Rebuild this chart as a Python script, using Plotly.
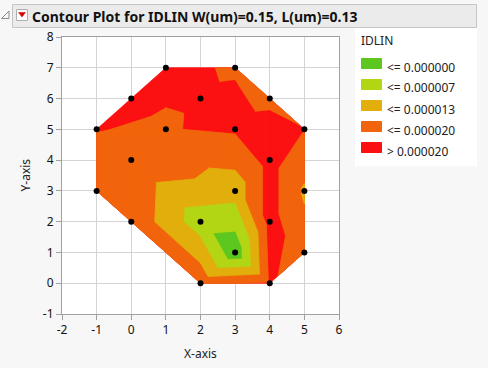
import plotly.graph_objects as go

# ---------------- data ----------------
pts_x = [-1, -1, 0, 0, 0, 1, 1, 2, 2, 2, 3, 3, 3, 3, 4, 4, 4, 4, 5, 5, 5]
pts_y = [5, 3, 6, 4, 2, 7, 5, 6, 2, 0, 7, 5, 3, 1, 6, 4, 2, 0, 5, 3, 1]
idlin = [20.07e-6, 18.5e-6, 20.37e-6, 19.26e-6, 18.65e-6, 20.5e-6, 19.73e-6,
         20.25e-6, 3.2e-6, 18.4e-6, 19.8e-6, 20.85e-6, 9.65e-6, -4.5e-6,
         19.4e-6, 22.7e-6, 22.7e-6, 21.0e-6, 20.1e-6, 12.5e-6, 16.8e-6]
# triangulation of the sample points (indices into the lists above)
triangles = [(0, 2, 6), (0, 3, 6), (2, 5, 6), (5, 7, 6), (6, 7, 11), (5, 10, 7),
             (7, 10, 11), (11, 10, 14), (11, 14, 15), (15, 14, 18), (15, 18, 19),
             (15, 19, 16), (16, 19, 20), (16, 20, 17), (13, 16, 17), (13, 17, 9),
             (9, 8, 13), (4, 8, 9), (8, 13, 12), (13, 16, 12), (12, 16, 15),
             (12, 15, 11), (6, 12, 11), (3, 6, 12), (3, 8, 12), (3, 4, 8),
             (0, 1, 3), (1, 4, 3)]
levels = [0.2e-6, 6.8e-6, 13.4e-6, 20.0e-6]
level_labels = ["<= 0.000000", "<= 0.000007", "<= 0.000013", "<= 0.000020", "> 0.000020"]
level_colors = ["#5cc71e", "#b3d614", "#e1ae0b", "#f1640b", "#fb1111"]
x_ticks = [-2, -1, 0, 1, 2, 3, 4, 5, 6]
y_ticks = [-1, 0, 1, 2, 3, 4, 5, 6, 7, 8]
legend_title = "IDLIN"
title_text = "Contour Plot for IDLIN W(um)=0.15, L(um)=0.13"

# ---------------- geometry helpers ----------------
W, H = 488, 368
L_PX, R_PX, T_PX, B_PX = 62, 339, 37, 314


def px(xp):
    return (xp - L_PX) / (R_PX - L_PX)


def py(yp):
    return (B_PX - yp) / (B_PX - T_PX)


def clip_below(poly, lev):
    out = []
    n = len(poly)
    for i in range(n):
        P = poly[i]
        Q = poly[(i + 1) % n]
        pin = P[2] <= lev
        qin = Q[2] <= lev
        if pin:
            out.append(P)
        if pin != qin:
            t = (lev - P[2]) / (Q[2] - P[2])
            out.append((P[0] + t * (Q[0] - P[0]), P[1] + t * (Q[1] - P[1]), lev))
    return out


fig = go.Figure()

# cumulative layers: everything (red), then <=20, <=13.4, <=6.8, <=0.2
layer_limits = [float("inf")] + levels[::-1]
layer_cols = level_colors[::-1]
for lim, col in zip(layer_limits, layer_cols):
    xs, ys = [], []
    for tri in triangles:
        poly = [(pts_x[i], pts_y[i], idlin[i]) for i in tri]
        c = clip_below(poly, lim)
        if len(c) >= 3:
            xs += [p[0] for p in c] + [c[0][0], None]
            ys += [p[1] for p in c] + [c[0][1], None]
    fig.add_trace(go.Scatter(x=xs, y=ys, mode="lines", fill="toself",
                             fillcolor=col, line=dict(color=col, width=0.8),
                             hoverinfo="skip", showlegend=False))

fig.add_trace(go.Scatter(x=pts_x, y=pts_y, mode="markers",
                         marker=dict(color="black", size=6),
                         showlegend=False))

shapes = []
annotations = []
FONT = "Noto Sans"

# header bar
shapes.append(dict(type="rect", xref="paper", yref="paper",
                   x0=px(12.5), x1=px(476.5), y0=py(27.5), y1=py(4.5),
                   fillcolor="#ebebeb", line=dict(color="#c4c4c4", width=1), layer="below"))
# disclosure triangle
shapes.append(dict(type="path", xref="paper", yref="paper",
                   path=f"M {px(1.5)},{py(18.5)} L {px(9)},{py(18.5)} L {px(9)},{py(11)} Z",
                   fillcolor="rgba(0,0,0,0)", line=dict(color="#8a8a8a", width=1)))
# red menu button
shapes.append(dict(type="rect", xref="paper", yref="paper",
                   x0=px(16.5), x1=px(27.5), y0=py(20.5), y1=py(9.5),
                   fillcolor="white", line=dict(color="#b0b0b0", width=1)))
shapes.append(dict(type="path", xref="paper", yref="paper",
                   path=f"M {px(18.5)},{py(12.5)} L {px(25.5)},{py(12.5)} L {px(22)},{py(17)} Z",
                   fillcolor="#d40000", line=dict(color="#d40000", width=0.5)))
annotations.append(dict(text=title_text, xref="paper", yref="paper",
                        x=px(30), y=py(16.5), xanchor="left", yanchor="middle",
                        showarrow=False,
                        font=dict(family=FONT, size=14, color="#111111", weight="bold")))

# legend panel
shapes.append(dict(type="rect", xref="paper", yref="paper",
                   x0=px(355), x1=px(477), y0=py(166), y1=py(28),
                   fillcolor="white", line=dict(width=0), layer="below"))
annotations.append(dict(text=legend_title, xref="paper", yref="paper",
                        x=px(359), y=py(41), xanchor="left", yanchor="middle",
                        showarrow=False, font=dict(family=FONT, size=12, color="#222")))
for k, (lab, col) in enumerate(zip(level_labels, level_colors)):
    top = 58.5 + k * 21
    shapes.append(dict(type="rect", xref="paper", yref="paper",
                       x0=px(361.5), x1=px(381.5), y0=py(top + 10), y1=py(top),
                       fillcolor=col, line=dict(color=col, width=1), opacity=1))
    annotations.append(dict(text=lab, xref="paper", yref="paper",
                            x=px(385), y=py(top + 8.5), xanchor="left", yanchor="middle",
                            showarrow=False, font=dict(family=FONT, size=12, color="#222")))

# axis titles
annotations.append(dict(text="X-axis", xref="paper", yref="paper",
                        x=px(200.5), y=py(353), xanchor="center", yanchor="middle",
                        showarrow=False, font=dict(family=FONT, size=12, color="#222")))
annotations.append(dict(text="Y-axis", xref="paper", yref="paper",
                        x=px(25), y=py(175.5), xanchor="center", yanchor="middle",
                        textangle=-90, showarrow=False,
                        font=dict(family=FONT, size=12, color="#222")))

axis_common = dict(showgrid=True, gridcolor="#d4d4d4", gridwidth=1,
                   showline=True, linecolor="#a0a0a0", linewidth=1, mirror=True,
                   ticks="outside", ticklen=5, tickcolor="#a0a0a0",
                   zeroline=False, tickfont=dict(family=FONT, size=12, color="#111"),
                   fixedrange=True)

fig.update_layout(
    width=W, height=H,
    margin=dict(l=L_PX, r=W - R_PX, t=T_PX, b=H - B_PX, autoexpand=False),
    paper_bgcolor="#f7f7f7", plot_bgcolor="white",
    xaxis=dict(range=[-2, 6], tickmode="array", tickvals=x_ticks,
               ticktext=[str(v) for v in x_ticks], **axis_common),
    yaxis=dict(range=[-1, 8], tickmode="array", tickvals=y_ticks,
               ticktext=[str(v) for v in y_ticks], **axis_common),
    shapes=shapes, annotations=annotations, showlegend=False,
)

fig.write_html("out.html", config={"displayModeBar": False},
               post_script="document.body.style.margin='0';document.body.style.background='#f7f7f7';")
